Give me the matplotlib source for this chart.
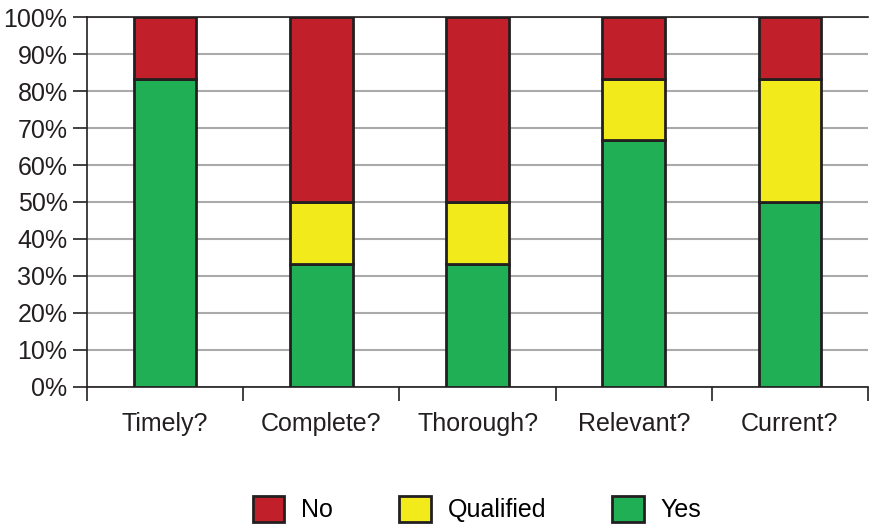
import matplotlib.pyplot as plt
import numpy as np
from matplotlib.patches import Patch
from matplotlib.ticker import PercentFormatter

plt.rcParams['font.family'] = ['Liberation Sans', 'DejaVu Sans']

# Share of answers per question (fractions of the whole)
categories = ['Timely?', 'Complete?', 'Thorough?', 'Relevant?', 'Current?']
yes = [5/6, 2/6, 2/6, 4/6, 3/6]
qualified = [0, 1/6, 1/6, 1/6, 2/6]
no = [1/6, 3/6, 3/6, 1/6, 1/6]

col_no = '#C1202A'
col_qual = '#F2EA1A'
col_yes = '#21AF55'
edge = '#231F20'

fig = plt.figure(figsize=(8.71, 5.27), dpi=100)
ax = fig.add_axes([0.0999, 0.2657, 0.8967, 0.702])

x = np.arange(len(categories))
w = 0.4
yes = np.array(yes)
qualified = np.array(qualified)
no = np.array(no)

ax.bar(x, yes, w, color=col_yes, edgecolor=edge, linewidth=2, zorder=3)
ax.bar(x, qualified, w, bottom=yes, color=col_qual, edgecolor=edge, linewidth=2, zorder=3)
ax.bar(x, no, w, bottom=yes + qualified, color=col_no, edgecolor=edge, linewidth=2, zorder=3)

ax.set_xlim(-0.5, len(categories) - 0.5)
ax.set_ylim(0, 1)
ax.set_yticks(np.arange(0, 1.01, 0.1))
ax.yaxis.set_major_formatter(PercentFormatter(1.0, decimals=0))
ax.yaxis.grid(True, color='#AAAAAA', linewidth=1.5, zorder=0)

# category labels centred, tick marks between categories
ax.set_xticks(x)
ax.set_xticklabels(categories)
ax.tick_params(axis='x', which='major', length=0, pad=18, labelsize=18, colors='#231F20')
ax.set_xticks(np.arange(-0.5, len(categories), 1), minor=True)
ax.tick_params(axis='x', which='minor', length=10, width=1.2, color='#231F20')
ax.tick_params(axis='y', length=10, width=1.2, color='#231F20', labelsize=18, labelcolor='#231F20', pad=4)

for s in ['left', 'bottom', 'top']:
    ax.spines[s].set_color('#231F20')
    ax.spines[s].set_linewidth(1.2)
ax.spines['right'].set_visible(False)

handles = [Patch(facecolor=col_no, edgecolor=edge, linewidth=2, label='No'),
           Patch(facecolor=col_qual, edgecolor=edge, linewidth=2, label='Qualified'),
           Patch(facecolor=col_yes, edgecolor=edge, linewidth=2, label='Yes')]
fig.legend(handles=handles, loc='lower center', bbox_to_anchor=(0.548, -0.034), ncol=3,
           frameon=False, fontsize=18, handlelength=1.25, handleheight=1.25,
           handletextpad=0.68, columnspacing=2.65)

fig.savefig('out.png', dpi=100)
